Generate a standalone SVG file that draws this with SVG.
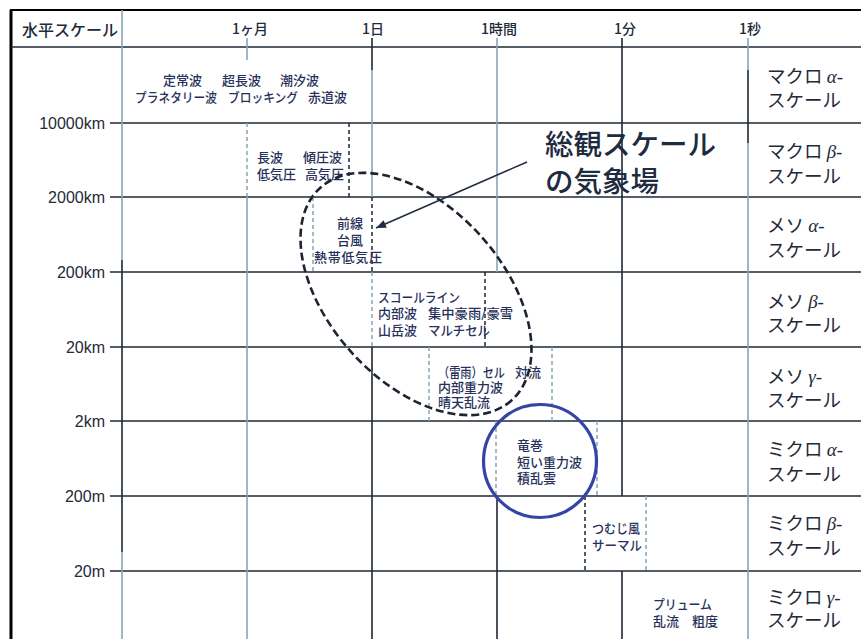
<svg xmlns="http://www.w3.org/2000/svg" width="861" height="639" viewBox="0 0 861 639">
<style>
.dk{stroke:#1c2733;stroke-width:1.6;fill:none}
.lt{stroke:#86a5b5;stroke-width:1.6;fill:none}
.dkd{stroke:#1c2733;stroke-width:1.5;stroke-dasharray:4 3;fill:none}
.ltd{stroke:#86a5b5;stroke-width:1.5;stroke-dasharray:4 3;fill:none}
.sm{font-family:"Noto Sans CJK JP","Noto Sans CJK SC",sans-serif;font-size:13px;font-weight:500;fill:#27305a}
.rl{font-family:"Noto Sans CJK JP","Noto Sans CJK SC",sans-serif;font-size:18.5px;fill:#1f2a3a}
.gk{font-family:"Liberation Serif",serif;font-style:italic;font-size:19px}
.ax{font-family:"Liberation Sans",sans-serif;font-size:16px;fill:#1f2a3a;text-anchor:end}
.hd{font-family:"Noto Sans CJK JP","Noto Sans CJK SC",sans-serif;font-size:14px;font-weight:500;fill:#1f2a3a;text-anchor:middle}
.big{font-family:"Noto Sans CJK JP","Noto Sans CJK SC",sans-serif;font-size:28.5px;font-weight:500;fill:#1f2b3f}
</style>
<defs>
<marker id="ah" viewBox="0 0 10 8" refX="10" refY="4" markerWidth="11" markerHeight="8" markerUnits="userSpaceOnUse" orient="auto">
<path d="M0,0 L10,4 L0,8 z" fill="#1f2a44"/>
</marker>
</defs>
<rect width="861" height="639" fill="#ffffff"/>

<g id="grid">
<line x1="10" y1="10" x2="861" y2="10" stroke="#000" stroke-width="2"/>
<line x1="11" y1="10" x2="11" y2="639" stroke="#000" stroke-width="3"/>
<line class="dk" x1="11" y1="47" x2="861" y2="47"/>
<line class="dk" x1="110" y1="123" x2="861" y2="123"/>
<line class="dk" x1="110" y1="197" x2="861" y2="197"/>
<line class="dk" x1="110" y1="272" x2="861" y2="272"/>
<line class="dk" x1="110" y1="347" x2="861" y2="347"/>
<line class="dk" x1="110" y1="421" x2="861" y2="421"/>
<line class="dk" x1="110" y1="496" x2="861" y2="496"/>
<line class="dk" x1="110" y1="571" x2="861" y2="571"/>
<line class="lt" x1="122" y1="10" x2="122" y2="260"/>
<line class="dk" x1="122" y1="260" x2="122" y2="552"/>
<line class="lt" x1="122" y1="552" x2="122" y2="639"/>
<line class="lt" x1="247" y1="38" x2="247" y2="60"/>
<line class="ltd" x1="247" y1="123" x2="247" y2="197"/>
<line class="lt" x1="247" y1="197" x2="247" y2="639"/>
<line class="dk" x1="372" y1="38" x2="372" y2="70"/>
<line class="lt" x1="372" y1="70" x2="372" y2="197"/>
<line class="dkd" x1="372" y1="197" x2="372" y2="272"/>
<line class="ltd" x1="372" y1="272" x2="372" y2="347"/>
<line class="dk" x1="372" y1="347" x2="372" y2="639"/>
<line class="lt" x1="497" y1="38" x2="497" y2="272"/>
<line class="dk" x1="497" y1="496" x2="497" y2="639"/>
<line class="dk" x1="622" y1="38" x2="622" y2="496"/>
<line class="dk" x1="622" y1="571" x2="622" y2="639"/>
<line class="lt" x1="748" y1="38" x2="748" y2="70"/>
<line class="dk" x1="748" y1="70" x2="748" y2="143"/>
<line class="lt" x1="748" y1="143" x2="748" y2="639"/>
<line class="dkd" x1="349" y1="123" x2="349" y2="197"/>
<line class="ltd" x1="313" y1="197" x2="313" y2="272"/>
<line class="dkd" x1="485" y1="272" x2="485" y2="347"/>
<line class="ltd" x1="429" y1="347" x2="429" y2="421"/>
<line class="ltd" x1="552" y1="347" x2="552" y2="421"/>
<line class="ltd" x1="496" y1="421" x2="496" y2="496"/>
<line class="ltd" x1="597" y1="421" x2="597" y2="496"/>
<line class="dkd" x1="585" y1="496" x2="585" y2="571"/>
<line class="ltd" x1="646" y1="496" x2="646" y2="571"/>
</g>

<g id="header">
<text x="22" y="36" font-family="Noto Sans CJK JP, sans-serif" font-size="16" font-weight="500" fill="#1f2a3a">水平スケール</text>
<text class="hd" x="250" y="34">1ヶ月</text>
<text class="hd" x="373" y="34">1日</text>
<text class="hd" x="499" y="34">1時間</text>
<text class="hd" x="625" y="34">1分</text>
<text class="hd" x="750" y="34">1秒</text>
</g>

<g id="axis-labels">
<text class="ax" x="105" y="129">10000km</text>
<text class="ax" x="105" y="203">2000km</text>
<text class="ax" x="105" y="278">200km</text>
<text class="ax" x="105" y="353">20km</text>
<text class="ax" x="105" y="427">2km</text>
<text class="ax" x="105" y="502">200m</text>
<text class="ax" x="105" y="577">20m</text>
</g>

<g id="scale-labels">
<text class="rl" x="767" y="83">マクロ <tspan class="gk">α-</tspan></text>
<text class="rl" x="767" y="107">スケール</text>
<text class="rl" x="767" y="158">マクロ <tspan class="gk">β-</tspan></text>
<text class="rl" x="767" y="183">スケール</text>
<text class="rl" x="767" y="232">メソ <tspan class="gk">α-</tspan></text>
<text class="rl" x="767" y="257">スケール</text>
<text class="rl" x="767" y="308">メソ <tspan class="gk">β-</tspan></text>
<text class="rl" x="767" y="332">スケール</text>
<text class="rl" x="767" y="383">メソ <tspan class="gk">γ-</tspan></text>
<text class="rl" x="767" y="407">スケール</text>
<text class="rl" x="767" y="456">ミクロ <tspan class="gk">α-</tspan></text>
<text class="rl" x="767" y="481">スケール</text>
<text class="rl" x="767" y="530">ミクロ <tspan class="gk">β-</tspan></text>
<text class="rl" x="767" y="555">スケール</text>
<text class="rl" x="767" y="604">ミクロ <tspan class="gk">γ-</tspan></text>
<text class="rl" x="767" y="627">スケール</text>
</g>

<g id="planetary">
<text class="sm" x="163" y="85">定常波</text>
<text class="sm" x="222" y="85">超長波</text>
<text class="sm" x="280" y="85">潮汐波</text>
<text class="sm" x="135" y="102" textLength="82" lengthAdjust="spacingAndGlyphs">プラネタリー波</text>
<text class="sm" x="228" y="102" textLength="70" lengthAdjust="spacingAndGlyphs">ブロッキング</text>
<text class="sm" x="308" y="102">赤道波</text>
</g>

<g id="synoptic-waves">
<text class="sm" x="257" y="162">長波</text>
<text class="sm" x="303" y="162">傾圧波</text>
<text class="sm" x="257" y="179">低気圧</text>
<text class="sm" x="305" y="179">高気圧</text>
</g>

<g id="fronts">
<text class="sm" x="337" y="228">前線</text>
<text class="sm" x="337" y="245">台風</text>
<text class="sm" x="314" y="262" textLength="68" lengthAdjust="spacing">熱帯低気圧</text>
</g>

<g id="squall">
<text class="sm" x="378" y="302" textLength="82" lengthAdjust="spacingAndGlyphs">スコールライン</text>
<text class="sm" x="378" y="318">内部波</text>
<text class="sm" x="428" y="318" textLength="85" lengthAdjust="spacingAndGlyphs">集中豪雨/豪雪</text>
<text class="sm" x="378" y="335">山岳波</text>
<text class="sm" x="428" y="335" textLength="62" lengthAdjust="spacingAndGlyphs">マルチセル</text>
</g>

<g id="cells">
<text class="sm" x="438" y="377" textLength="67" lengthAdjust="spacingAndGlyphs">（雷雨）セル</text>
<text class="sm" x="515" y="377">対流</text>
<text class="sm" x="438" y="392">内部重力波</text>
<text class="sm" x="438" y="407">晴天乱流</text>
</g>

<g id="tornado">
<text class="sm" x="517" y="450">竜巻</text>
<text class="sm" x="517" y="467">短い重力波</text>
<text class="sm" x="517" y="483">積乱雲</text>
</g>

<g id="thermal">
<text class="sm" x="592" y="533" textLength="48" lengthAdjust="spacingAndGlyphs">つむじ風</text>
<text class="sm" x="592" y="550" textLength="50" lengthAdjust="spacingAndGlyphs">サーマル</text>
</g>

<g id="plume">
<text class="sm" x="653" y="609" textLength="59" lengthAdjust="spacingAndGlyphs">プリューム</text>
<text class="sm" x="653" y="626">乱流</text>
<text class="sm" x="692" y="626">粗度</text>
</g>

<g id="synoptic-field">
<ellipse cx="416" cy="294" rx="143" ry="87" transform="rotate(48 416 294)" fill="none" stroke="#1c2430" stroke-width="2.6" stroke-dasharray="8 4"/>
<text class="big" x="545" y="155">総観スケール</text>
<text class="big" x="545" y="192">の気象場</text>
</g>

<g id="micro-circle">
<circle cx="540" cy="461" r="56.5" fill="none" stroke="#3545a5" stroke-width="3.2"/>
</g>

<g id="connectors">
<line x1="527" y1="162" x2="376" y2="228" stroke="#1f2a44" stroke-width="1.5" marker-end="url(#ah)"/>
</g>
</svg>
